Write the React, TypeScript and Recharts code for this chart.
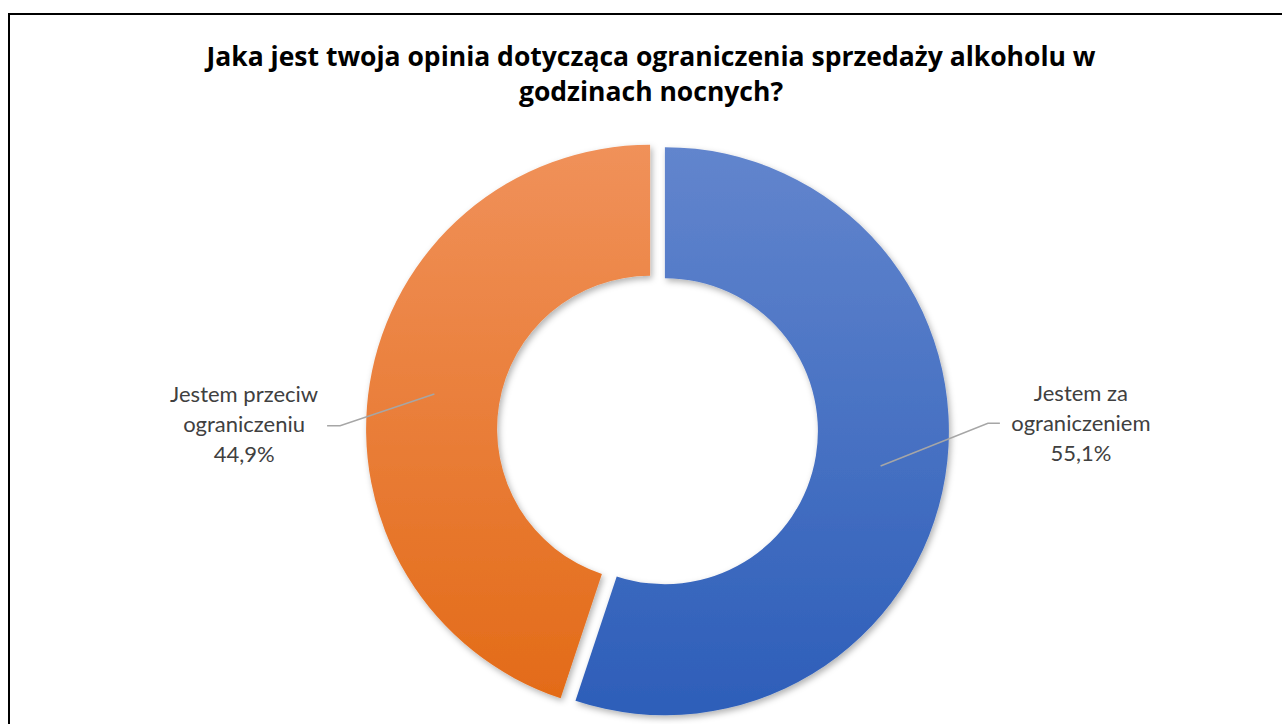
import React from "react";
import { PieChart, Pie, Cell } from "recharts";

// ---------- data ----------
const categories = ["Jestem za ograniczeniem", "Jestem przeciw ograniczeniu"];
const categoryLines = [
  ["Jestem za", "ograniczeniem"],
  ["Jestem przeciw", "ograniczeniu"],
];
const values = [55.1, 44.9];
const valueLabels = ["55,1%", "44,9%"];
const titleLines = [
  "Jaka jest twoja opinia dotycząca ograniczenia sprzedaży alkoholu w",
  "godzinach nocnych?",
];

// ---------- layout / style ----------
const W = 1282;
const H = 724;
const CX = 652.5;
const CY = 425;
const OUTER = 284;
const INNER = 153;
const EXPLODE = 7.5;
const RAD = Math.PI / 180;
const FONT = "Lato, 'Open Sans', sans-serif";
const TITLE_FONT = "'Open Sans', Lato, sans-serif";

const gradients = [
  { id: "gBlue", top: "#6285CD", bottom: "#2D5EB9" },
  { id: "gOrange", top: "#F0915A", bottom: "#E36B18" },
];

// label layout relative to the (exploded) slice centre
const labelLayout = [
  { side: 1, elbowDx: 39, endDx: 51, textDx: 132, elbowDy: -8, baseDy: [-30, 0, 30] },
  { side: -1, elbowDx: 26, endDx: 39, textDx: 122, elbowDy: -3, baseDy: [-27, 3, 33] },
];

const data = categories.map((name, i) => ({ name, value: values[i] }));
const total = values.reduce((a, b) => a + b, 0);

function sliceOffset(i: number) {
  let cum = 0;
  for (let k = 0; k < i; k++) cum += values[k];
  const mid = 90 - (360 * (cum + values[i] / 2)) / total;
  return { dx: EXPLODE * Math.cos(mid * RAD), dy: -EXPLODE * Math.sin(mid * RAD) };
}

function makeLabel(visible: number) {
  return (props: any) => {
    const { cx, cy, midAngle, innerRadius, outerRadius, index } = props;
    if (index !== visible) return null;
    const lay = labelLayout[index];
    const r0 = (innerRadius + outerRadius) / 2;
    const sx = cx + r0 * Math.cos(-midAngle * RAD);
    const sy = cy + r0 * Math.sin(-midAngle * RAD);
    const edge = cx + lay.side * outerRadius;
    const ex = edge + lay.side * lay.elbowDx;
    const ey = cy + lay.elbowDy;
    const tx = edge + lay.side * lay.endDx;
    const cxText = edge + lay.side * lay.textDx;
    const lines = [...categoryLines[index], valueLabels[index]];
    return (
      <g>
        <polyline
          points={`${sx},${sy} ${ex},${ey} ${tx},${ey}`}
          fill="none"
          stroke="#A6A6A6"
          strokeWidth={1.5}
        />
        {lines.map((t, k) => (
          <text
            key={k}
            x={cxText}
            y={cy + lay.baseDy[k]}
            textAnchor="middle"
            fontFamily={FONT}
            fontSize={22}
            fill="#404040"
          >
            {t}
          </text>
        ))}
      </g>
    );
  };
}

export default function App() {
  return (
    <div style={{ position: "relative", width: W, height: H, overflow: "hidden", background: "#fff" }}>
      <style>{`html,body{margin:0;padding:0;overflow:hidden;background:#fff}`}</style>
      <div
        style={{
          position: "absolute",
          left: 8,
          top: 13,
          width: 1400,
          height: 800,
          borderTop: "2px solid #000",
          borderLeft: "2px solid #000",
          boxSizing: "border-box",
        }}
      />
      <div style={{ position: "absolute", left: 0, top: 0 }}>
        <PieChart width={W} height={H}>
          <defs>
            {gradients.map((g) => (
              <linearGradient key={g.id} id={g.id} x1="0" y1="0" x2="0" y2="1">
                <stop offset="0%" stopColor={g.top} />
                <stop offset="100%" stopColor={g.bottom} />
              </linearGradient>
            ))}
            <filter id="shadow" x="-10%" y="-10%" width="120%" height="120%">
              <feDropShadow dx="2" dy="3" stdDeviation="3" floodColor="#000" floodOpacity="0.3" />
            </filter>
          </defs>
          {values.map((_, vis) => {
            const o = sliceOffset(vis);
            return (
              <Pie
                key={vis}
                data={data}
                dataKey="value"
                nameKey="name"
                cx={CX + o.dx}
                cy={CY + o.dy}
                innerRadius={INNER}
                outerRadius={OUTER}
                startAngle={90}
                endAngle={-270}
                stroke="none"
                labelLine={false}
                label={makeLabel(vis)}
                isAnimationActive={false}
              >
                {data.map((_, i) => (
                  <Cell
                    key={i}
                    fill={i === vis ? `url(#${gradients[i].id})` : "none"}
                    stroke="none"
                    filter={i === vis ? "url(#shadow)" : undefined}
                  />
                ))}
              </Pie>
            );
          })}
        </PieChart>
      </div>
      <svg
        width={W}
        height={120}
        style={{ position: "absolute", left: 0, top: 0, pointerEvents: "none" }}
      >
        {titleLines.map((t, k) => (
          <text
            key={k}
            x={651}
            y={66 + k * 35}
            textAnchor="middle"
            fontFamily={TITLE_FONT}
            fontWeight={700}
            fontSize={26.5}
            fill="#000"
          >
            {t}
          </text>
        ))}
      </svg>
    </div>
  );
}
